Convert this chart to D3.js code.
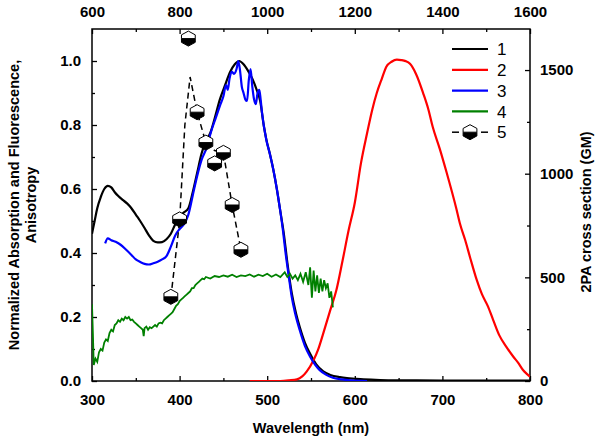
<!DOCTYPE html>
<html><head><meta charset="utf-8">
<script src="https://cdn.jsdelivr.net/npm/d3@7"></script>
<style>
body{margin:0;background:#fff;}
svg{display:block;font-family:"Liberation Sans",Arial,sans-serif;}
</style></head>
<body><svg id="c" width="600" height="441"></svg>
<script>
// ---- data ----
const absWl = [300,303,306,310,314,318,322,326,330,335,340,345,350,355,360,365,370,375,380,385,390,395,400,405,410,415,420,425,430,435,440,446,452,457.5,463,468,473,478,483,488,492,496,499,503,507,511,515,519,523,528,533,537,543,549,556,564,572,583,591,600,610,629,660,700,800];
const absVal = [0.46,0.5,0.54,0.575,0.6,0.61,0.605,0.59,0.578,0.566,0.555,0.54,0.52,0.5,0.478,0.455,0.438,0.433,0.434,0.443,0.46,0.49,0.515,0.527,0.54,0.59,0.65,0.71,0.75,0.775,0.82,0.88,0.925,0.965,0.99,1.0,0.99,0.97,0.945,0.91,0.875,0.8,0.755,0.71,0.66,0.6,0.53,0.46,0.37,0.275,0.21,0.17,0.12,0.085,0.052,0.03,0.019,0.012,0.009,0.007,0.005,0.003,0.002,0.001,0.001];

const tpaWl = [480,515,525,534,540,545,553,558,564,572,579,586,593,600,607,614,620,625,631,636,642,648,653,658,663,670,678,684,689,697,705,716,720,726,732,739,745,752,758,765,773,781,787,792,797,800];
const tpaGM = [0,0,3,8,22,45,101,150,230,342,439,580,728,860,1050,1195,1310,1388,1460,1516,1540,1550,1548,1543,1530,1480,1389,1310,1225,1120,1003,830,760,680,590,490,420,360,294,220,165,117,85,53,32,21];

const excWl = [315,318,322,327,333,339,345,350,355,360,365,370,375,380,385,390,395,400,405,410,415,420,425,431,436,441,446,450,453,455,457,459.5,462,465,467,469,471,473,475,477,479,481,483,485,487,489,491,492.5,494,499,503,507,511,515,518,521,525,528,532,537,543,549,555,560,567,575,585,595,614];
const excVal = [0.43,0.446,0.44,0.435,0.425,0.41,0.394,0.38,0.372,0.366,0.364,0.368,0.373,0.38,0.39,0.42,0.455,0.475,0.49,0.52,0.58,0.64,0.69,0.73,0.78,0.82,0.86,0.89,0.925,0.91,0.945,0.967,0.96,0.975,1.0,0.97,0.92,0.9,0.88,0.875,0.94,0.975,0.92,0.88,0.865,0.9,0.91,0.88,0.84,0.753,0.71,0.66,0.6,0.53,0.47,0.4,0.32,0.263,0.21,0.16,0.11,0.076,0.05,0.034,0.02,0.01,0.005,0.002,0];

const anisWl = [300,301,302,304,306,308,310,312,314,316,318,320,322,324,326,328,330,332,334,336,338,340,342,344,346,348,350,352,354,356,358,359,360,362,364,366,368,370,372,374,376,378,380,382,384,386,388,390,392,394,396,398,400,402,404,406,408,410,412,414,416,418,420,422,424,426,428,430,435,440,445,450,455,460,465,470,475,480,485,490,495,500,505,510,515,520,523,526,529,532,535,538,541,544,547,549,551,553,555,557,559,561,563,565,567,569,571,573,575];
const anisVal = [0.24,0.15,0.05,0.07,0.06,0.09,0.1,0.095,0.12,0.13,0.125,0.15,0.16,0.155,0.175,0.18,0.19,0.185,0.195,0.19,0.2,0.195,0.2,0.19,0.192,0.185,0.18,0.175,0.17,0.165,0.16,0.14,0.165,0.17,0.16,0.168,0.165,0.17,0.175,0.17,0.18,0.182,0.18,0.19,0.195,0.2,0.205,0.21,0.215,0.225,0.235,0.24,0.25,0.255,0.26,0.265,0.27,0.275,0.28,0.29,0.29,0.3,0.305,0.31,0.315,0.32,0.318,0.325,0.32,0.328,0.325,0.33,0.326,0.332,0.325,0.33,0.328,0.333,0.326,0.332,0.328,0.335,0.326,0.333,0.325,0.34,0.325,0.335,0.32,0.33,0.315,0.335,0.31,0.34,0.3,0.355,0.26,0.345,0.28,0.33,0.275,0.32,0.28,0.315,0.29,0.305,0.26,0.28,0.23];

const s5LineWl = [390,400,406,412,420,430,440,450,460,470];
const s5LineVal = [0.26,0.5,0.8,0.95,0.84,0.745,0.72,0.713,0.55,0.41];
const s5PtWl = [390,400,410,420,430,440,450,460,470];
const s5PtVal = [0.263,0.505,1.07,0.84,0.745,0.68,0.713,0.55,0.41];

const bottomTicks = [300,400,500,600,700,800];
const leftTicks = [0.0,0.2,0.4,0.6,0.8,1.0];
const topTicks = [600,800,1000,1200,1400,1600];
const rightTicks = [0,500,1000,1500];
const legendLabels = ["1","2","3","4","5"];
const colors = ["#000000","#ff0000","#0000ff","#008000","#000000"];

// ---- layout ----
const L=92,R=530,T=29,B=381;
const svg=d3.select("#c");
const x=d3.scaleLinear().domain([300,800]).range([L,R]);
const y=d3.scaleLinear().domain([0,1.1]).range([B,T]);
const xTop=d3.scaleLinear().domain([600,1600]).range([L,R]);
const yR=d3.scaleLinear().domain([0,1698]).range([B,T]);

svg.append("defs").append("clipPath").attr("id","clip").append("rect")
  .attr("x",L).attr("y",T).attr("width",R-L).attr("height",B-T);

const fontTick="bold 15px 'Liberation Sans', Arial, sans-serif";

function styleAxis(g){
  g.select(".domain").remove();
  g.selectAll("line").attr("stroke","#000").attr("stroke-width",1.3);
  g.selectAll("text").style("font",fontTick).attr("fill","#000");
}
function minor(axisFn,scale,vals,tr){
  svg.append("g").attr("transform",tr).call(axisFn(scale).tickValues(vals).tickSize(-3).tickFormat(""))
    .call(g=>{g.select(".domain").remove();g.selectAll("line").attr("stroke","#000").attr("stroke-width",1.3);});
}
const gb=svg.append("g").attr("transform",`translate(0,${B})`)
  .call(d3.axisBottom(x).tickValues(bottomTicks).tickSize(-5).tickPadding(13).tickFormat(d3.format("d")));
styleAxis(gb);
minor(d3.axisBottom,x,[350,450,550,650,750],`translate(0,${B})`);

const gl=svg.append("g").attr("transform",`translate(${L},0)`)
  .call(d3.axisLeft(y).tickValues(leftTicks).tickSize(-5).tickPadding(11).tickFormat(d3.format(".1f")));
styleAxis(gl);
minor(d3.axisLeft,y,[0.1,0.3,0.5,0.7,0.9],`translate(${L},0)`);

const gt=svg.append("g").attr("transform",`translate(0,${T})`)
  .call(d3.axisTop(xTop).tickValues(topTicks).tickSize(-5).tickPadding(12).tickFormat(d3.format("d")));
styleAxis(gt);
minor(d3.axisTop,xTop,[700,900,1100,1300,1500],`translate(0,${T})`);

const gr=svg.append("g").attr("transform",`translate(${R},0)`)
  .call(d3.axisRight(yR).tickValues(rightTicks).tickSize(-5).tickPadding(10).tickFormat(d3.format("d")));
styleAxis(gr);
minor(d3.axisRight,yR,[250,750,1250],`translate(${R},0)`);

svg.append("rect").attr("x",L).attr("y",T).attr("width",R-L).attr("height",B-T)
  .attr("fill","none").attr("stroke","#000").attr("stroke-width",1.5);

// ---- series ----
const plot=svg.append("g").attr("clip-path","url(#clip)");
const zip=(a,b)=>a.map((v,i)=>[v,b[i]]);

plot.append("path").attr("d",d3.line().x(d=>x(d[0])).y(d=>y(d[1])).curve(d3.curveMonotoneX)(zip(absWl,absVal)))
  .attr("fill","none").attr("stroke",colors[0]).attr("stroke-width",2.2);
plot.append("path").attr("d",d3.line().x(d=>x(d[0])).y(d=>yR(d[1])).curve(d3.curveMonotoneX)(zip(tpaWl,tpaGM)))
  .attr("fill","none").attr("stroke",colors[1]).attr("stroke-width",2.2);
plot.append("path").attr("d",d3.line().x(d=>x(d[0])).y(d=>y(d[1])).curve(d3.curveMonotoneX)(zip(excWl,excVal)))
  .attr("fill","none").attr("stroke",colors[2]).attr("stroke-width",2.2);
plot.append("path").attr("d",d3.line().x(d=>x(d[0])).y(d=>y(d[1]))(zip(anisWl,anisVal)))
  .attr("fill","none").attr("stroke",colors[3]).attr("stroke-width",1.8);
plot.append("path").attr("d",d3.line().x(d=>x(d[0])).y(d=>y(d[1]))(zip(s5LineWl,s5LineVal)))
  .attr("fill","none").attr("stroke","#000").attr("stroke-width",1.5).attr("stroke-dasharray","6,4");

function marker(g,cx,cy,r){
  const w=r*0.92;
  const top=[[cx,cy-r],[cx+w,cy-r/2],[cx+w,cy],[cx-w,cy],[cx-w,cy-r/2]];
  const bot=[[cx-w,cy],[cx+w,cy],[cx+w,cy+r/2],[cx,cy+r],[cx-w,cy+r/2]];
  g.append("polygon").attr("points",bot.map(p=>p.join(",")).join(" ")).attr("fill","#000").attr("stroke","#000").attr("stroke-width",1);
  g.append("polygon").attr("points",top.map(p=>p.join(",")).join(" ")).attr("fill","#fff").attr("stroke","#000").attr("stroke-width",1);
}
const mg=svg.append("g");
zip(s5PtWl,s5PtVal).forEach(d=>marker(mg,x(d[0]),y(d[1]),7.5));

// ---- legend ----
const lg=svg.append("g");
legendLabels.forEach((lab,i)=>{
  const ly=49+i*20.8;
  if(i<4){
    lg.append("line").attr("x1",452).attr("x2",488).attr("y1",ly).attr("y2",ly)
      .attr("stroke",colors[i]).attr("stroke-width",2.2);
  } else {
    lg.append("line").attr("x1",452).attr("x2",459).attr("y1",ly).attr("y2",ly).attr("stroke","#000").attr("stroke-width",1.5);
    lg.append("line").attr("x1",481).attr("x2",488).attr("y1",ly).attr("y2",ly).attr("stroke","#000").attr("stroke-width",1.5);
    marker(lg,470,ly,7.5);
  }
  lg.append("text").attr("x",497).attr("y",ly).attr("dy","0.36em")
    .style("font","17px 'Liberation Sans', Arial, sans-serif").text(lab);
});

// ---- axis titles ----
const fontTitle="bold 14.5px 'Liberation Sans', Arial, sans-serif";
svg.append("text").attr("transform","translate(311,433)").attr("text-anchor","middle")
  .style("font",fontTitle).text("Wavelength (nm)");
svg.append("text").attr("transform","translate(19,205) rotate(-90)").attr("text-anchor","middle")
  .style("font",fontTitle).text("Normalized Absorption and Fluorescence,");
svg.append("text").attr("transform","translate(36,205) rotate(-90)").attr("text-anchor","middle")
  .style("font",fontTitle).text("Anisotropy");
svg.append("text").attr("transform","translate(591,212) rotate(-90)").attr("text-anchor","middle")
  .style("font",fontTitle).text("2PA cross section (GM)");
</script></body></html>
